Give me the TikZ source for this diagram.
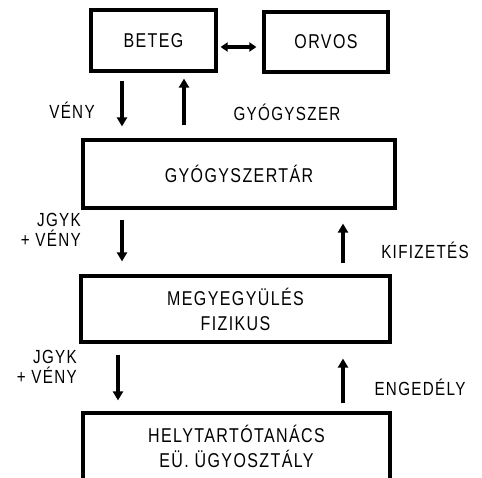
\documentclass[tikz,border=0pt]{standalone}
\usepackage{fontspec}
\setmainfont[FakeStretch=0.8,LetterSpace=7]{Liberation Sans}
\usetikzlibrary{arrows.meta}
\begin{document}
\begin{tikzpicture}[x=1pt,y=-1pt,
  box/.style={draw,line width=3.2pt,inner sep=0pt,align=center,
    font=\fontsize{20}{25}\selectfont},
  lbl/.style={inner sep=0pt,align=right,font=\fontsize{19}{19.5}\selectfont},
  flow/.style={line width=3.2pt,-{Triangle[length=9pt,width=10pt]}},
  both/.style={line width=3.2pt,{Triangle[length=7pt,width=9pt]}-{Triangle[length=7pt,width=9pt]}}]
\useasboundingbox (0,0) rectangle (482,477);
\clip (0,0) rectangle (482,477);
\node[box,minimum width=125pt,minimum height=61pt] (beteg) at (153.5,40.5) {BETEG};
\node[box,minimum width=124pt,minimum height=60pt] (orvos) at (326,42) {ORVOS};
\node[box,minimum width=312pt,minimum height=68pt] (gyogy) at (239,174) {GYÓGYSZERTÁR};
\node[box,minimum width=309pt,minimum height=66pt] (megye) at (235.5,309) {MEGYEGYÜLÉS\\FIZIKUS};
\node[box,minimum width=307pt,minimum height=67pt] (helyt) at (236.5,446.5) {HELYTARTÓTANÁCS\\EÜ. ÜGYOSZTÁLY};
% connectors
\draw[both,shorten <=3pt,shorten >=6pt] ([yshift=-6.5pt]beteg.east) -- ([yshift=-5pt]orvos.west);
\draw[flow,shorten <=8pt,shorten >=12pt] ([xshift=-31.5pt]beteg.south) -- ([xshift=-117pt]gyogy.north);
\draw[flow,shorten <=13pt,shorten >=6pt] ([xshift=-55pt]gyogy.north) -- ([xshift=30.5pt]beteg.south);
\draw[flow,shorten <=10pt,shorten >=13pt] ([xshift=-117pt]gyogy.south) -- ([xshift=-113.5pt]megye.north);
\draw[flow,shorten <=11pt,shorten >=14pt] ([xshift=107.5pt]megye.north) -- ([xshift=104pt]gyogy.south);
\draw[flow,shorten <=11pt,shorten >=11pt] ([xshift=-117.5pt]megye.south) -- ([xshift=-118.5pt]helyt.north);
\draw[flow,shorten <=8pt,shorten >=15pt] ([xshift=106.5pt]helyt.north) -- ([xshift=107.5pt]megye.south);
% labels
\node[lbl] (l1) at (72,110) {VÉNY};
\node[lbl] (l2) at (287,112) {GYÓGYSZER};
\node[lbl,anchor=east] (l3) at (81,230) {JGYK\\+ VÉNY};
\node[lbl] (l4) at (425,250) {KIFIZETÉS};
\node[lbl,anchor=east] (l5) at (77,367) {JGYK\\+ VÉNY};
\node[lbl] (l6) at (420,387) {ENGEDÉLY};
\end{tikzpicture}
\end{document}
